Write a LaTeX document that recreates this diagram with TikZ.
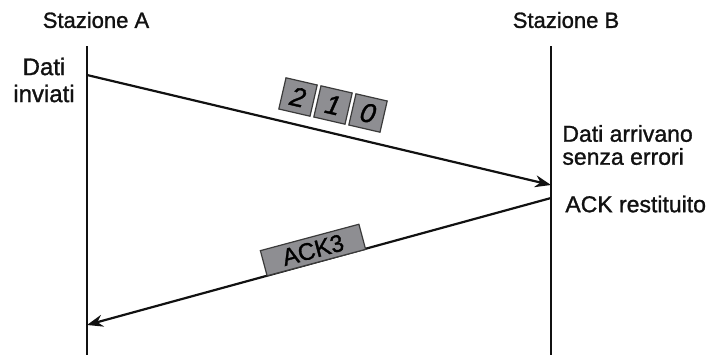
\documentclass[tikz,border=0pt]{standalone}
\usepackage{fontspec}
\setmainfont{Liberation Sans}[FakeBold=1.2]
\usepackage{tikz}
\usetikzlibrary{arrows.meta}
\definecolor{ink}{HTML}{111111}
\definecolor{ink2}{HTML}{3A3A3A}
\definecolor{pk}{HTML}{8E8E92}

\begin{document}
\begin{tikzpicture}[x=0.5pt,y=-0.5pt,font=\fontsize{11.5}{11.5}\selectfont,
  lbl/.style={ink,inner sep=0pt},
  sta/.style={lbl,font=\fontsize{11}{11}\selectfont},
  life/.style={draw=ink,line width=1pt},
  msg/.style={-{Stealth[length=8pt,width=6pt]},draw=ink,line width=1.1pt},
  pkt/.style={draw=ink2,fill=pk,line width=0.6pt,minimum size=16pt,inner sep=0pt,
    font=\fontsize{13.5}{13.5}\selectfont\itshape},
  ack/.style={draw=ink2,fill=pk,line width=0.6pt,minimum width=51pt,minimum height=13pt,inner sep=1pt,
    font=\fontsize{12}{12}\selectfont}]
\useasboundingbox (0,0) rectangle (707,355);
% stazioni
\node[sta] (staA) at (96,20) {Stazione A};
\node[sta] (staB) at (566,20) {Stazione B};
\coordinate (aTop) at (87,46); \coordinate (aBot) at (87,355);
\coordinate (bTop) at (551,46); \coordinate (bBot) at (551,355);
\draw[life] (aTop) -- (aBot);
\draw[life] (bTop) -- (bBot);
% dati A -> B
\coordinate (a1) at (87,75); \coordinate (b1) at (551,185);
\draw[msg] (a1) -- (b1);
\node[lbl,align=center,font=\fontsize{12}{13.5}\selectfont] (inv) at (44,80) {Dati\\inviati};
\foreach \d [count=\i] in {2,1,0} {\node[pkt,rotate=-13] (p\i) at ({263+35*\i},{89+8*\i}) {\d};}
\node[lbl,align=left,anchor=west] (arr) at (562,145) {Dati arrivano\\senza errori};
% ack B -> A
\coordinate (b2) at (551,198); \coordinate (a2) at (87,325);
\draw[msg] (b2) -- (a2);
\node[lbl,anchor=west] (rest) at (565,204) {ACK restituito};
\node[ack,rotate=15] (ack3) at (313,250) {ACK3};
\end{tikzpicture}
\end{document}
